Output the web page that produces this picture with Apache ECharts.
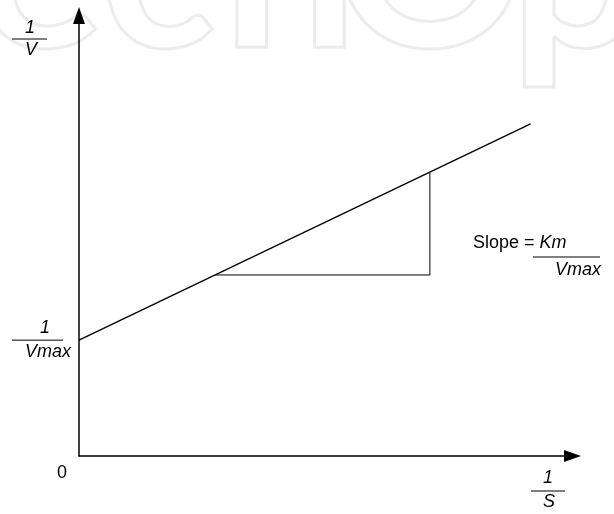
<!DOCTYPE html>
<html><head><meta charset="utf-8">
<script src="https://cdn.jsdelivr.net/npm/echarts@6/dist/echarts.min.js"></script>
<style>html,body{margin:0;padding:0;background:#fff}#c{width:614px;height:514px}</style>
</head><body><div id="c"></div>
<script>
// Lineweaver-Burk line (x = 1/S, y = 1/V), arbitrary units
const lineX = [0, 9.15];
const lineY = [2.63, 7.54];
// slope triangle
const triX = [2.76, 7.11, 7.11];
const triY = [4.11, 4.11, 6.45];
// axis extents
const xMin = 0, xMax = 10, yMin = 0, yMax = 10;
// texts
const yAxisName = ['1', 'V'];
const interceptName = ['1', 'Vmax'];
const xAxisName = ['1', 'S'];
const originLabel = '0';
const slopeText = ['Slope = ', 'Km', 'Vmax'];
const watermarkLetters = ['e', 'c', 'h', 'O', 'p'];

const chart = echarts.init(document.getElementById('c'), null, {renderer: 'canvas'});
const FONT = 'Liberation Sans';
const FS = 18;
function txt(t, x, y, italic, align) {
  return {type: 'text', x: x, y: y, z: 10, silent: true,
    style: {text: t, fill: '#000', font: (italic ? 'italic ' : '') + FS + 'px "' + FONT + '"',
      align: align || 'center', verticalAlign: 'middle'}};
}
function hline(x1, x2, y, w) {
  return {type: 'line', z: 10, silent: true, shape: {x1: x1, y1: y, x2: x2, y2: y},
    style: {stroke: '#000', lineWidth: w || 1}};
}
const wmX = [40, 158, 290, 430, 578];
const watermark = watermarkLetters.map((l, i) => ({
  type: 'text', x: wmX[i], y: -30, z: -10, silent: true,
  style: {text: l, fill: 'none', stroke: '#ececec', lineWidth: 3,
    font: 'bold 240px "Lato"', align: 'center', verticalAlign: 'middle'}
}));

const option = {
  animation: false,
  backgroundColor: '#fff',
  grid: {left: 79, right: 41.5, top: 15.5, bottom: 58},
  xAxis: {type: 'value', min: xMin, max: xMax,
    axisLine: {show: true, symbol: ['none', 'triangle'], symbolSize: [12, 17],
      lineStyle: {color: '#000', width: 1.5}},
    axisTick: {show: false}, axisLabel: {show: false}, splitLine: {show: false}},
  yAxis: {type: 'value', min: yMin, max: yMax,
    axisLine: {show: true, symbol: ['none', 'triangle'], symbolSize: [12, 17],
      lineStyle: {color: '#000', width: 1.5}},
    axisTick: {show: false}, axisLabel: {show: false}, splitLine: {show: false}},
  series: [
    {type: 'line', data: lineX.map((x, i) => [x, lineY[i]]), showSymbol: false,
      lineStyle: {color: '#000', width: 1.3}, z: 5},
    {type: 'line', data: triX.map((x, i) => [x, triY[i]]), showSymbol: false,
      lineStyle: {color: '#000', width: 1}, z: 4}
  ],
  graphic: watermark
};
chart.setOption(option);

const icpt = chart.convertToPixel({gridIndex: 0}, [lineX[0], lineY[0]]);
const iy = icpt[1];
const slopeLabel = {type: 'text', x: 473, y: 243, z: 10, silent: true,
  style: {text: '{n|' + slopeText[0] + '}{i|' + slopeText[1] + '}', align: 'left', verticalAlign: 'middle',
    fill: '#000', fontFamily: FONT, fontSize: FS,
    rich: {n: {fontFamily: FONT, fontSize: FS, fill: '#000'},
           i: {fontFamily: FONT, fontSize: FS, fontStyle: 'italic', fill: '#000'}}}};
chart.setOption({graphic: watermark.concat([
  txt(yAxisName[0], 30, 28, true), hline(12, 47, 39), txt(yAxisName[1], 31, 50, true),
  txt(interceptName[0], 45, iy - 12, true), hline(12, 63, iy), txt(interceptName[1], 48, iy + 12, true),
  txt(originLabel, 62, 473, false),
  txt(xAxisName[0], 548, 478, true), hline(531, 565, 491), txt(xAxisName[1], 549, 502, true),
  slopeLabel,
  hline(533, 600, 257), txt(slopeText[2], 601, 270, true, 'right')
])});
</script></body></html>
